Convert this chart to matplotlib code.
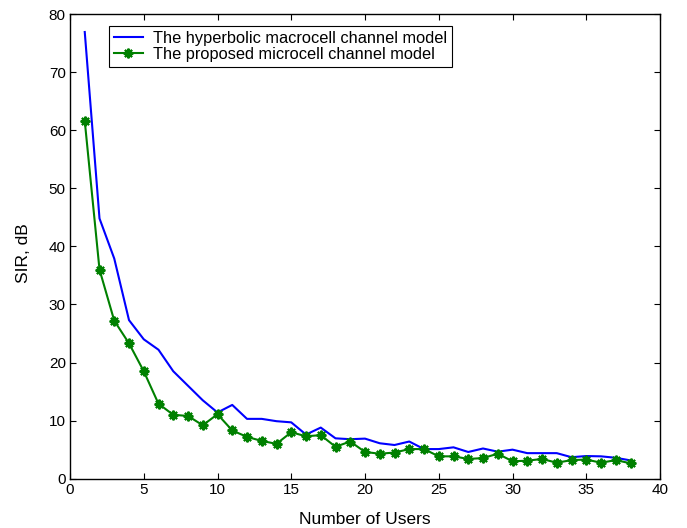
import matplotlib
matplotlib.use("Agg")
import matplotlib.pyplot as plt

users = list(range(1, 39))
macro = [76.9, 44.8, 37.9, 27.3, 24.0, 22.2, 18.5, 16.0, 13.5, 11.4,
         12.7, 10.3, 10.3, 9.9, 9.7, 7.6, 8.8, 6.95, 6.8, 6.9,
         6.1, 5.8, 6.4, 5.1, 5.1, 5.4, 4.6, 5.2, 4.65, 5.0,
         4.4, 4.4, 4.4, 3.7, 3.9, 3.85, 3.6, 3.15]
micro = [61.6, 36.0, 27.2, 23.3, 18.5, 12.9, 11.0, 10.8, 9.2, 11.1,
         8.3, 7.2, 6.5, 6.0, 8.0, 7.3, 7.5, 5.5, 6.4, 4.6,
         4.3, 4.5, 5.1, 5.1, 3.85, 3.85, 3.4, 3.55, 4.3, 3.0,
         3.1, 3.4, 2.75, 3.2, 3.3, 2.75, 3.2, 2.65]
labels = ["The hyperbolic macrocell channel model",
          "The proposed microcell channel model"]

plt.rcParams['font.family'] = ['Liberation Sans', 'DejaVu Sans']
fig = plt.figure(figsize=(6.87, 5.28), dpi=100)
ax = fig.add_axes([70/687, 1-478.7/528, 590/687, (478.7-14)/528])

ax.plot(users, macro, color='#0000ff', lw=1.5, label=labels[0])
ax.plot(users, micro, color='#008000', lw=1.5, marker=(8, 2, 0), ms=7,
        mew=1.5, label=labels[1])

ax.set_xlim(0, 40)
ax.set_ylim(0, 80)
ax.set_xticks(range(0, 41, 5))
ax.set_yticks(range(0, 81, 10))
ax.tick_params(direction='in', length=4, width=0.8, labelsize=11,
               top=True, right=True, pad=3)
for s in ax.spines.values():
    s.set_linewidth(1.0)
ax.set_xlabel("Number of Users", fontsize=12.5, labelpad=11)
ax.set_ylabel("SIR, dB", fontsize=12.5)
ax.yaxis.set_label_coords(-0.066, 0.485)

leg = ax.legend(loc='upper left', bbox_to_anchor=(0.0666, 0.974),
                borderaxespad=0, fontsize=11.8, fancybox=False,
                edgecolor='black', framealpha=1, handlelength=1.75,
                borderpad=0.28, labelspacing=0.08, handletextpad=0.65)
leg.get_frame().set_linewidth(0.8)

fig.savefig("out.png", dpi=100)
